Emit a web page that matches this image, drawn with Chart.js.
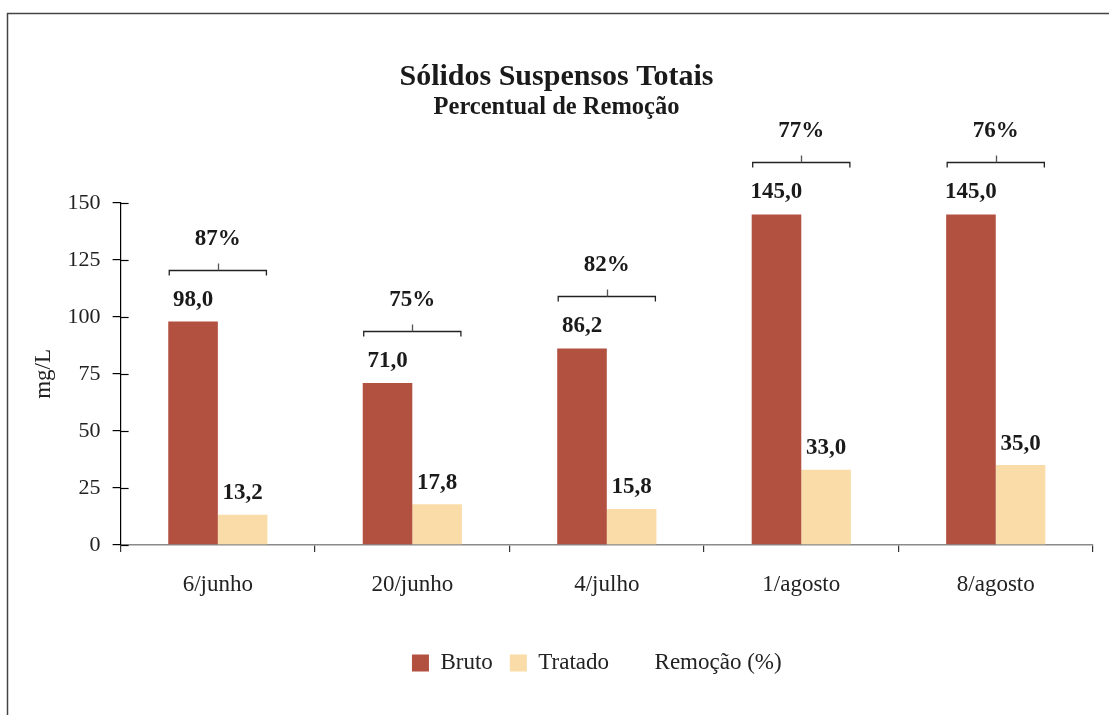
<!DOCTYPE html>
<html>
<head>
<meta charset="utf-8">
<script src="https://cdn.jsdelivr.net/npm/chart.js@4.4.1/dist/chart.umd.min.js"></script>
<style>
  html, body { margin: 0; padding: 0; background: #ffffff; }
  #wrap { position: relative; width: 1109px; height: 715px; }
</style>
</head>
<body>
<div id="wrap"><canvas id="c"></canvas></div>
<script>
const categories = ['6/junho', '20/junho', '4/julho', '1/agosto', '8/agosto'];
const bruto = [98.0, 71.0, 86.2, 145.0, 145.0];
const tratado = [13.2, 17.8, 15.8, 33.0, 35.0];
const remocao = [87, 75, 82, 77, 76];
const yTicks = [0, 25, 50, 75, 100, 125, 150];

const FONT = "'Liberation Serif', 'Times New Roman', serif";
const BRUTO_COLOR = '#b35141';
const TRATADO_COLOR = '#f9dca8';

Chart.defaults.font.family = FONT;
Chart.defaults.color = '#222';

function fmt(v) { return v.toFixed(1).replace('.', ','); }

const framePlugin = {
  id: 'frame',
  afterLayout(chart) {
    // nudge the legend slightly left, as in the original
    const lg = chart.legend;
    if (lg) { lg.left -= 10; lg.right -= 10; }
  },
  beforeDraw(chart) {
    const ctx = chart.ctx;
    ctx.save();
    ctx.fillStyle = '#ffffff';
    ctx.fillRect(0, 0, chart.width, chart.height);
    ctx.strokeStyle = '#444';
    ctx.lineWidth = 1.5;
    ctx.beginPath();
    ctx.moveTo(7.5, chart.height);
    ctx.lineTo(7.5, 13.5);
    ctx.lineTo(chart.width, 13.5);
    ctx.stroke();
    ctx.restore();
  }
};

const labelPlugin = {
  id: 'labels',
  afterDatasetsDraw(chart) {
    const ctx = chart.ctx;
    const m0 = chart.getDatasetMeta(0);
    const m1 = chart.getDatasetMeta(1);
    const ys = chart.scales.y;
    ctx.save();
    // inner part of y ticks
    ctx.strokeStyle = '#000';
    ctx.lineWidth = 1.2;
    ys.ticks.forEach(t => {
      const py = Math.round(ys.getPixelForValue(t.value)) + 0.5;
      ctx.beginPath();
      ctx.moveTo(chart.chartArea.left, py);
      ctx.lineTo(chart.chartArea.left + 8, py);
      ctx.stroke();
    });
    ctx.fillStyle = '#1a1a1a';
    ctx.textAlign = 'center';
    ctx.textBaseline = 'alphabetic';
    ctx.font = 'bold 23px ' + FONT;
    for (let i = 0; i < categories.length; i++) {
      const b0 = m0.data[i], b1 = m1.data[i];
      ctx.fillText(fmt(bruto[i]), b0.x, b0.y - 16);
      ctx.fillText(fmt(tratado[i]), b1.x, b1.y - 15.5);
      const x1 = b0.x - b0.width / 2 + 1;
      const x2 = b1.x + b1.width / 2 - 1;
      const by = Math.round(b0.y - 52) + 0.5;
      const cx = Math.round((x1 + x2) / 2) + 0.5;
      ctx.strokeStyle = '#222';
      ctx.lineWidth = 1.3;
      ctx.beginPath();
      ctx.moveTo(x1, by + 5);
      ctx.lineTo(x1, by);
      ctx.lineTo(x2, by);
      ctx.lineTo(x2, by + 5);
      ctx.stroke();
      ctx.strokeStyle = '#555';
      ctx.beginPath();
      ctx.moveTo(cx, by);
      ctx.lineTo(cx, by - 7);
      ctx.stroke();
      ctx.fillText(remocao[i] + '%', (x1 + x2) / 2, by - 26);
    }
    ctx.restore();
  }
};

new Chart(document.getElementById('c'), {
  type: 'bar',
  data: {
    labels: categories,
    datasets: [
      { label: 'Bruto', data: bruto, backgroundColor: BRUTO_COLOR, borderWidth: 0,
        categoryPercentage: 0.51, barPercentage: 1.0 },
      { label: 'Tratado', data: tratado, backgroundColor: TRATADO_COLOR, borderWidth: 0,
        categoryPercentage: 0.51, barPercentage: 1.0 },
      { type: 'line', label: 'Remoção (%)', data: remocao, yAxisID: 'yR',
        showLine: false, pointRadius: 0, borderWidth: 0,
        backgroundColor: 'rgba(0,0,0,0)', borderColor: 'rgba(0,0,0,0)' }
    ]
  },
  options: {
    responsive: true,
    maintainAspectRatio: false,
    animation: false,
    devicePixelRatio: 1,
    events: [],
    layout: { padding: { top: 0, left: 20, right: 16, bottom: 30.5 } },
    scales: {
      x: {
        offset: true,
        grid: { display: true, drawOnChartArea: false, drawTicks: true, tickLength: 7,
                color: '#333', lineWidth: 1.2, offset: true },
        border: { display: true, color: '#8a8a8a', width: 1.5 },
        ticks: { font: { size: 23 }, color: '#222', padding: 19 },
        title: { display: true, text: '', font: { size: 10, lineHeight: 1 },
                 padding: { top: 7, bottom: 0 } }
      },
      y: {
        min: 0, max: 150,
        afterBuildTicks(scale) { scale.ticks = yTicks.map(v => ({ value: v })); },
        grid: { drawOnChartArea: false, drawTicks: true, tickLength: 8, color: '#000', lineWidth: 1.2 },
        border: { display: true, color: '#000', width: 1.2 },
        ticks: { font: { size: 22 }, color: '#222', padding: 12 },
        title: { display: true, text: 'mg/L', font: { size: 23 }, color: '#222',
                 padding: { top: 10, bottom: -2 } }
      },
      yR: { display: false, min: 0, max: 100 }
    },
    plugins: {
      legend: {
        position: 'bottom',
        fullSize: false,
        labels: { boxWidth: 17, boxHeight: 17, padding: 17, font: { size: 23 }, color: '#222' }
      },
      title: {
        display: true,
        text: 'Sólidos Suspensos Totais',
        color: '#1a1a1a',
        font: { size: 30, weight: 'bold', lineHeight: 1 },
        padding: { top: 62, bottom: 3 }
      },
      subtitle: {
        display: true,
        text: 'Percentual de Remoção',
        color: '#1a1a1a',
        font: { size: 24.5, weight: 'bold', lineHeight: 1 },
        padding: { top: 0, bottom: 83.5 }
      },
      tooltip: { enabled: false }
    }
  },
  plugins: [framePlugin, labelPlugin]
});
</script>
</body>
</html>
